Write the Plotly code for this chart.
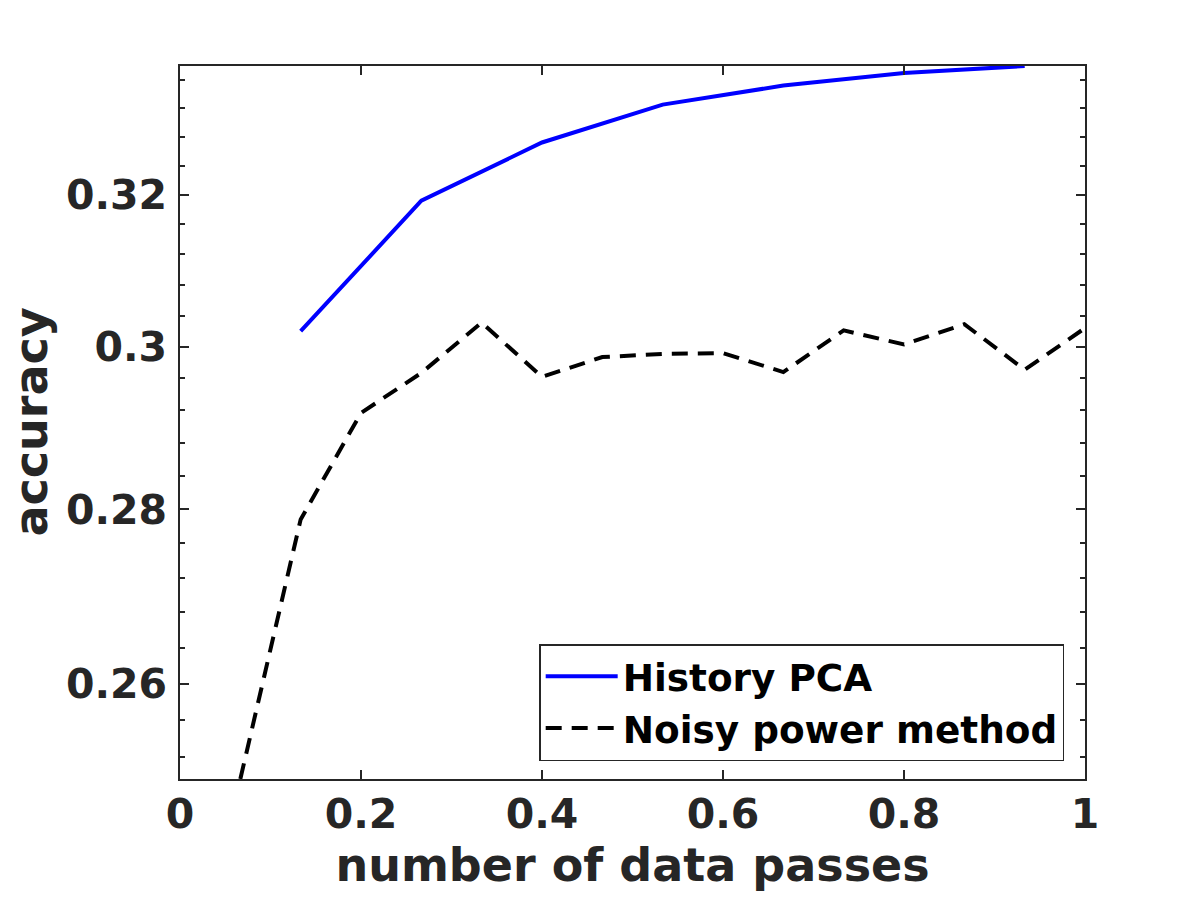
# accuracy vs number of data passes (log-scaled y axis)
import numpy as np
import plotly.graph_objects as go

# data
hist_x = [2/15, 4/15, 6/15, 8/15, 10/15, 12/15, 14/15]
hist_acc = [0.3020, 0.3192, 0.3272, 0.3325, 0.3352, 0.3370, 0.3380]

noisy_x = [1/15, 2/15, 3/15, 4/15, 5/15, 6/15, 7/15, 8/15,
           9/15, 10/15, 11/15, 12/15, 13/15, 14/15, 15/15]
noisy_acc = [0.2497, 0.2788, 0.2917, 0.2967, 0.3031, 0.2962, 0.2987, 0.2991,
             0.2992, 0.2968, 0.3021, 0.3003, 0.3029, 0.2971, 0.3024]

x_ticks = [0, 0.2, 0.4, 0.6, 0.8, 1]
x_ticktext = ["0", "0.2", "0.4", "0.6", "0.8", "1"]
y_ticks = [0.26, 0.28, 0.3, 0.32]
y_ticktext = ["0.26", "0.28", "0.3", "0.32"]
y_minor = [round(v, 3) for v in np.arange(0.252, 0.3381, 0.004)
           if round(v, 3) not in y_ticks]

y_lo, y_hi = 0.2497, 0.3380

axis_col = "#262626"
font = "DejaVu Sans"

fig = go.Figure()
fig.add_trace(go.Scatter(x=hist_x, y=hist_acc, name="History PCA", mode="lines",
                         line=dict(color="#0000ff", width=4)))
fig.add_trace(go.Scatter(x=noisy_x, y=noisy_acc, name="Noisy power method", mode="lines",
                         line=dict(color="#000000", width=4, dash="16px,10px")))

# the page puts the figure 8px in from the corner, so margins are pulled in by 8
fig.update_layout(
    width=1200, height=900,
    margin=dict(l=172, r=123, t=58, b=129),
    plot_bgcolor="white", paper_bgcolor="white",
    font=dict(family=font, color=axis_col),
    xaxis=dict(
        range=[0, 1], tickvals=x_ticks, ticktext=x_ticktext,
        ticks="inside", ticklen=9, tickwidth=1.5, tickcolor=axis_col,
        showline=True, linecolor=axis_col, linewidth=1.5, mirror="ticks",
        showgrid=False, zeroline=False, ticklabelstandoff=-2, automargin=False,
        tickfont=dict(size=41, family=font, weight="bold", color=axis_col),
        title=dict(text="<b>number of data passes</b>", standoff=2,
                   font=dict(size=46, family=font, color=axis_col)),
    ),
    yaxis=dict(
        type="log", range=[np.log10(y_lo), np.log10(y_hi)],
        tickvals=y_ticks, ticktext=y_ticktext,
        ticks="inside", ticklen=9, tickwidth=1.5, tickcolor=axis_col,
        minor=dict(tickvals=y_minor, ticks="inside", ticklen=5, tickcolor=axis_col,
                   tickwidth=1.5, showgrid=False),
        showline=True, linecolor=axis_col, linewidth=1.5, mirror="ticks",
        showgrid=False, zeroline=False, ticklabelstandoff=3, automargin=False,
        tickfont=dict(size=41, family=font, weight="bold", color=axis_col),
    ),
    legend=dict(
        x=0.977, y=0.0252, xanchor="right", yanchor="bottom",
        bgcolor="white", bordercolor=axis_col, borderwidth=1.5,
        font=dict(size=37.4, family=font, weight="bold", color="#000000"),
        tracegroupgap=0, itemwidth=72,
    ),
    showlegend=True,
)

# y title as a rotated annotation so it can sit closer to the edge
fig.add_annotation(
    text="<b>accuracy</b>", xref="paper", yref="paper", x=-0.1657, y=0.5,
    xanchor="center", yanchor="middle", textangle=-90, showarrow=False,
    font=dict(size=46, family=font, color=axis_col),
)

fig.write_html("out.html")
